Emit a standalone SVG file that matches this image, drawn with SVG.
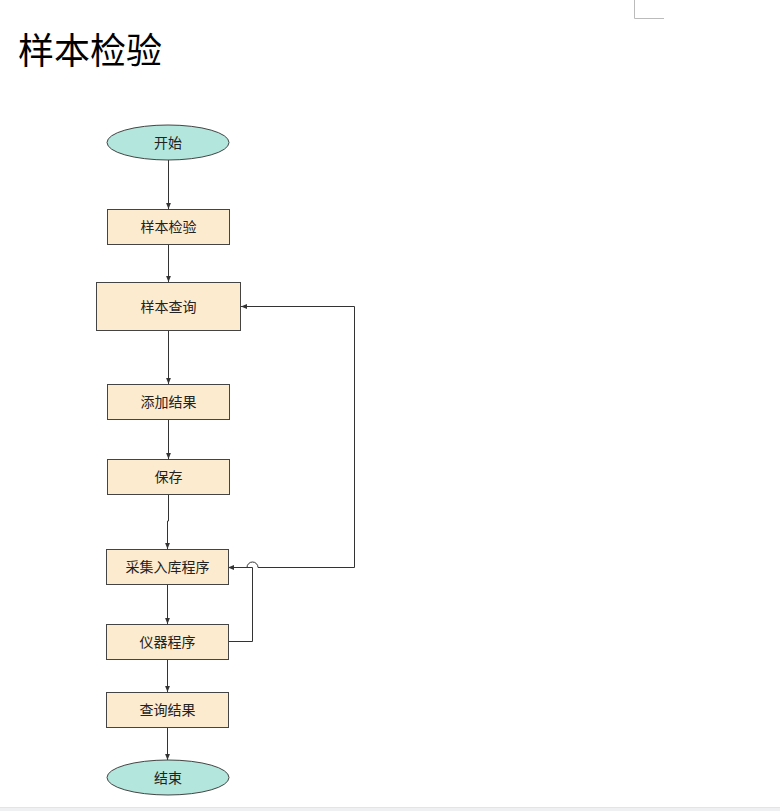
<svg xmlns="http://www.w3.org/2000/svg" width="780" height="811" viewBox="0 0 780 811">
<style>
.t{font-family:"Noto Sans CJK SC","Noto Sans",sans-serif;font-size:14px;fill:#222;text-anchor:middle;dominant-baseline:central}
.title{font-family:"Liberation Serif","Noto Sans CJK SC",serif;font-size:36px;fill:#000}
.rect{fill:#fdebcf;stroke:#444;stroke-width:1}
.ell{fill:#b3e6dc;stroke:#444;stroke-width:1}
.c{fill:none;stroke:#333;stroke-width:1}
</style>
<defs>
<marker id="arr" viewBox="0 0 10 10" refX="10" refY="5" markerWidth="6" markerHeight="6" orient="auto" markerUnits="userSpaceOnUse">
<path d="M0,1 L10,5 L0,9 Z" fill="#333"/>
</marker>
</defs>
<rect x="0" y="0" width="780" height="811" fill="#fff"/>
<path d="M634.5,0 V18.5 H664" fill="none" stroke="#bbb" stroke-width="1"/>
<rect x="0" y="807" width="780" height="4" fill="#eef0f2"/>
<line x1="0" y1="807.5" x2="780" y2="807.5" stroke="#e2e4e6"/>
<text class="title" x="18" y="64">样本检验</text>
<g id="connectors">
<path class="c" d="M168.5,160 V209" marker-end="url(#arr)"/>
<path class="c" d="M168.5,244 V282" marker-end="url(#arr)"/>
<path class="c" d="M168.5,330 V384" marker-end="url(#arr)"/>
<path class="c" d="M168.5,419 V459" marker-end="url(#arr)"/>
<path class="c" d="M168.5,494 V521 H167.5 V549" marker-end="url(#arr)"/>
<path class="c" d="M167.5,584 V624" marker-end="url(#arr)"/>
<path class="c" d="M167.5,659 V692" marker-end="url(#arr)"/>
<path class="c" d="M167.5,727 V760" marker-end="url(#arr)"/>
<path class="c" d="M228,641.5 H252.5 V567.5 H228" marker-end="url(#arr)"/>
<path class="c" d="M247,567.5 A5.5,5.5 0 0 1 258,567.5 H354.5 V306.5 H241" marker-end="url(#arr)"/>
</g>
<g id="start"><ellipse class="ell" cx="168" cy="142.5" rx="61" ry="17.5"/><text class="t" x="168" y="142">开始</text></g>
<g id="n1"><rect class="rect" x="107.5" y="209.5" width="122" height="35"/><text class="t" x="168.5" y="226">样本检验</text></g>
<g id="n2"><rect class="rect" x="96.5" y="282.5" width="144" height="48"/><text class="t" x="168.5" y="306">样本查询</text></g>
<g id="n3"><rect class="rect" x="107.5" y="384.5" width="122" height="35"/><text class="t" x="168.5" y="401">添加结果</text></g>
<g id="n4"><rect class="rect" x="107.5" y="459.5" width="122" height="35"/><text class="t" x="168.5" y="476">保存</text></g>
<g id="n5"><rect class="rect" x="106.5" y="549.5" width="122" height="35"/><text class="t" x="167.5" y="566">采集入库程序</text></g>
<g id="n6"><rect class="rect" x="106.5" y="624.5" width="122" height="35"/><text class="t" x="167.5" y="641">仪器程序</text></g>
<g id="n7"><rect class="rect" x="106.5" y="692.5" width="122" height="35"/><text class="t" x="167.5" y="709">查询结果</text></g>
<g id="end"><ellipse class="ell" cx="168" cy="777.5" rx="61" ry="17.5"/><text class="t" x="168" y="777">结束</text></g>
</svg>
